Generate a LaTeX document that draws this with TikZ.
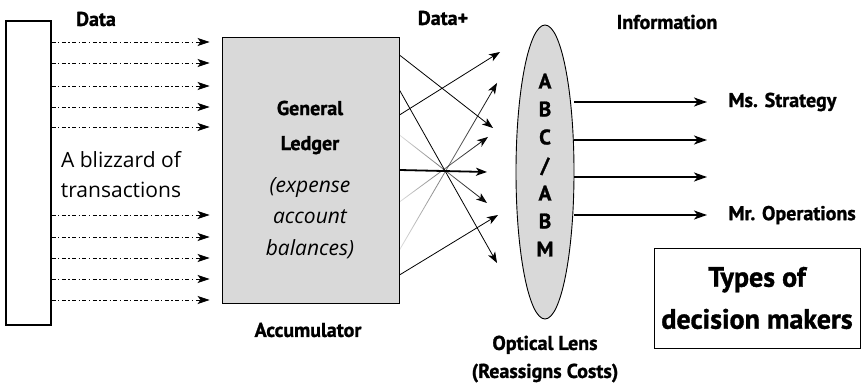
\documentclass[tikz,border=0pt]{standalone}
\usepackage{fontspec}
\setmainfont{Open Sans}
\newfontfamily\condfont[BoldFeatures={FakeBold=1.2}]{PT Sans}
\usetikzlibrary{arrows.meta}
\usetikzlibrary{shapes.geometric}
\usetikzlibrary{fadings}
\tikzfading[name=fadein, left color=transparent!88, right color=transparent!0]
\tikzset{-data-/.style={-{Stealth[length=12pt,width=8pt,inset=3pt]},line width=0.8pt,
    dash pattern=on 4pt off 2.5pt on 1.3pt off 2.5pt}
}
\tikzset{-mix-/.style={-{Stealth[length=11pt,width=8pt,inset=3pt]},line width=0.8pt}}
\tikzset{-info-/.style={-{Stealth[length=13pt,width=9pt,inset=3.5pt]},line width=1.4pt}}
\tikzset{bold label/.style={font=\condfont\bfseries\fontsize{20}{24}\selectfont}}
\tikzset{plain label/.style={font=\fontsize{21}{25}\selectfont}}

\begin{document}
\begin{tikzpicture}[x=1pt,y=-1pt]
                \useasboundingbox (0,0) rectangle (862,385);
                
                % Boxes
                \node[draw,line width=1.1pt,minimum width=45pt,minimum height=304pt,inner sep=0pt] (src) at (28.5,173) {};
                \node[draw,line width=0.9pt,fill=gray!30,minimum width=177pt,minimum height=266pt,inner sep=0pt] (gl) at (310.5,170) {};
                \node[draw,line width=0.9pt,fill=gray!30,ellipse,minimum width=58pt,minimum height=294pt,inner sep=0pt] (lens) at (545,172) {};
                
                % Data
                \foreach \y in {42,63,86,107,127,215,237,258,279,300}
                    \draw[-data-,shorten >=12pt] (src.east |- 0,\y) -- (gl.west |- 0,\y);
                
                % Data+ ends
                \coordinate (p1) at (493,128);
                \coordinate (p2) at (497,263);
                \coordinate (p3) at (500,52);
                \coordinate (p4) at (487,203);
                \coordinate (p5) at (487,172);
                \coordinate (p6) at (488,137);
                \coordinate (p7) at (497,83);
                \coordinate (p8) at (498,215);
                
                % Data+
                \draw[-mix-] (gl.east |- 0,55) -- (p1);
                \draw[-mix-] (gl.east |- 0,90) -- (p2);
                \draw[-mix-] (gl.east |- 0,115) -- (p3);
                \draw[-mix-,path fading=fadein] (gl.east |- 0,135) -- (p4);
                \draw[-mix-,line width=1.8pt] (gl.east) -- (p5);
                \draw[-mix-,path fading=fadein] (gl.east |- 0,202) -- (p6);
                \draw[-mix-,path fading=fadein] (gl.east |- 0,250) -- (p7);
                \draw[-mix-] (gl.east |- 0,275) -- (p8);
                
                % Information
                \node[bold label,anchor=west] (ms) at (725,102) {Ms. Strategy};
                \node[bold label,anchor=west] (mr) at (725,215) {Mr. Operations};
                \coordinate (q2) at (707,140);
                \coordinate (q3) at (707,177);
                \draw[-info-,shorten >=18pt] (lens.east |- ms.west) -- (ms.west);
                \draw[-info-] (lens.east |- q2) -- (q2);
                \draw[-info-] (lens.east |- q3) -- (q3);
                \draw[-info-,shorten >=18pt] (lens.east |- mr.west) -- (mr.west);
                
                % Texts in the boxes
                \node[plain label,align=center,font=\fontsize{21}{30}\selectfont] (blz) at (121,175) {A blizzard of\\transactions};
                \node[bold label,align=center,font=\condfont\bfseries\fontsize{20}{35}\selectfont] (glname) at (310,127.5) {General\\Ledger};
                \node[plain label,align=center,font=\itshape\fontsize{21}{31.5}\selectfont] (glnote) at (310,218) {(expense\\account\\balances)};
                \node[bold label,align=center,font=\condfont\bfseries\fontsize{21}{28}\selectfont] (abc) at (545,165) {A\\B\\C\\/\\A\\B\\M};
                
                % Labels
                \node[bold label] (data) at (96,19) {Data};
                \node[bold label] (dataplus) at (443,18) {Data+};
                \node[bold label] (info) at (667,22) {Information};
                \node[bold label] (acc) at (308,330) {Accumulator};
                \node[bold label,align=center,font=\condfont\bfseries\fontsize{20}{28}\selectfont] (optic) at (545,359) {Optical Lens\\(Reassigns Costs)};
                
                % Decision makers
                \node[draw,line width=0.8pt,minimum width=206pt,minimum height=100pt,align=center,
                    font=\condfont\bfseries\fontsize{28}{42}\selectfont] (types) at (757,298) {Types of\\decision makers};
            \end{tikzpicture}
\end{document}
